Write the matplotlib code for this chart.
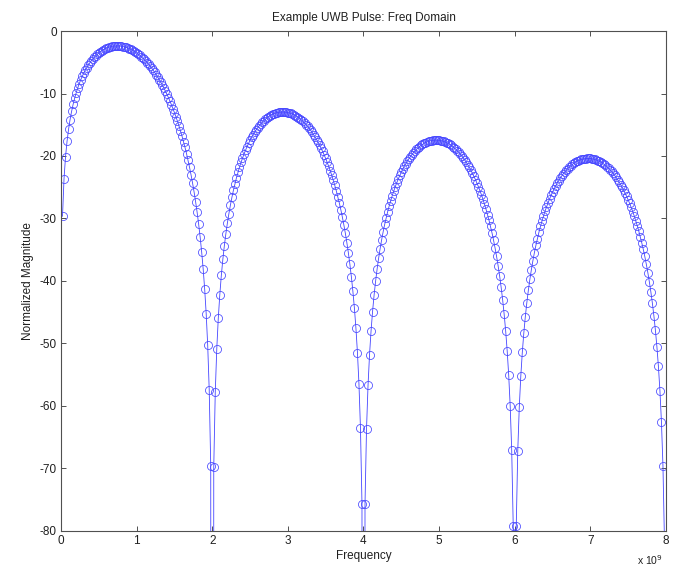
import numpy as np
import matplotlib
matplotlib.use("Agg")
import matplotlib.pyplot as plt

plt.rcParams['font.family'] = ['Liberation Sans', 'DejaVu Sans']

# Normalized spectrum magnitude (dB), sampled every 0.02 x 10^9 Hz from 0.02 to 8.00.
# Each lobe list ends at its spectral null (deep notch far below the plotted range).
lobe1_db = [
    -29.64, -23.62, -20.11, -17.64, -15.73, -14.17, -12.87, -11.75, -10.79, -9.92,
    -9.16, -8.46, -7.84, -7.27, -6.76, -6.29, -5.86, -5.47, -5.11, -4.77,
    -4.47, -4.19, -3.94, -3.71, -3.50, -3.31, -3.15, -2.99, -2.86, -2.74,
    -2.65, -2.56, -2.50, -2.44, -2.40, -2.39, -2.38, -2.38, -2.40, -2.43,
    -2.48, -2.54, -2.61, -2.70, -2.81, -2.92, -3.04, -3.18, -3.34, -3.50,
    -3.68, -3.87, -4.09, -4.31, -4.55, -4.80, -5.06, -5.34, -5.64, -5.95,
    -6.29, -6.63, -7.00, -7.39, -7.78, -8.20, -8.65, -9.11, -9.60, -10.10,
    -10.64, -11.20, -11.79, -12.40, -13.04, -13.72, -14.43, -15.18, -15.97, -16.81,
    -17.70, -18.64, -19.63, -20.70, -21.83, -23.04, -24.35, -25.77, -27.32, -29.01,
    -30.88, -32.97, -35.34, -38.07, -41.31, -45.25, -50.31, -57.43, -69.55, -600.0,
]
lobe2_db = [
    -69.73, -57.77, -50.83, -45.94, -42.18, -39.12, -36.56, -34.36, -32.45, -30.75,
    -29.24, -27.87, -26.62, -25.49, -24.46, -23.50, -22.62, -21.80, -21.04, -20.34,
    -19.68, -19.07, -18.50, -17.97, -17.48, -17.02, -16.60, -16.20, -15.82, -15.48,
    -15.17, -14.87, -14.61, -14.35, -14.13, -13.93, -13.75, -13.58, -13.44, -13.31,
    -13.21, -13.12, -13.05, -13.00, -12.97, -12.95, -12.95, -12.96, -13.00, -13.04,
    -13.11, -13.19, -13.30, -13.41, -13.55, -13.69, -13.86, -14.04, -14.25, -14.47,
    -14.72, -14.97, -15.26, -15.56, -15.87, -16.21, -16.59, -16.97, -17.38, -17.81,
    -18.27, -18.76, -19.28, -19.82, -20.40, -21.01, -21.66, -22.35, -23.08, -23.86,
    -24.69, -25.56, -26.50, -27.51, -28.58, -29.74, -31.00, -32.36, -33.86, -35.50,
    -37.32, -39.36, -41.68, -44.37, -47.55, -51.45, -56.46, -63.53, -75.62, -600.0,
]
lobe3_db = [
    -75.71, -63.71, -56.72, -51.79, -47.99, -44.89, -42.29, -40.05, -38.10, -36.37,
    -34.82, -33.41, -32.13, -30.96, -29.89, -28.90, -27.98, -27.13, -26.34, -25.60,
    -24.91, -24.27, -23.67, -23.11, -22.59, -22.09, -21.64, -21.21, -20.81, -20.44,
    -20.09, -19.77, -19.48, -19.20, -18.94, -18.72, -18.51, -18.31, -18.15, -18.00,
    -17.86, -17.75, -17.65, -17.58, -17.53, -17.48, -17.46, -17.44, -17.46, -17.48,
    -17.53, -17.58, -17.66, -17.76, -17.87, -18.00, -18.14, -18.30, -18.49, -18.69,
    -18.91, -19.15, -19.41, -19.69, -19.99, -20.31, -20.66, -21.02, -21.42, -21.83,
    -22.27, -22.74, -23.25, -23.77, -24.33, -24.92, -25.55, -26.22, -26.93, -27.70,
    -28.51, -29.37, -30.29, -31.28, -32.34, -33.48, -34.72, -36.07, -37.55, -39.17,
    -40.98, -43.00, -45.31, -47.98, -51.15, -55.03, -60.03, -67.09, -79.16, -600.0,
]
lobe4_db = [
    -79.21, -67.20, -60.20, -55.26, -51.44, -48.33, -45.71, -43.46, -41.50, -39.75,
    -38.19, -36.76, -35.47, -34.29, -33.21, -32.20, -31.27, -30.41, -29.61, -28.85,
    -28.15, -27.50, -26.89, -26.31, -25.78, -25.28, -24.81, -24.37, -23.95, -23.57,
    -23.22, -22.88, -22.58, -22.29, -22.02, -21.79, -21.56, -21.36, -21.19, -21.02,
    -20.88, -20.75, -20.65, -20.56, -20.50, -20.44, -20.41, -20.38, -20.39, -20.40,
    -20.44, -20.48, -20.56, -20.64, -20.75, -20.86, -20.99, -21.15, -21.32, -21.52,
    -21.73, -21.96, -22.21, -22.48, -22.77, -23.08, -23.42, -23.78, -24.16, -24.57,
    -25.00, -25.46, -25.96, -26.47, -27.02, -27.60, -28.23, -28.89, -29.59, -30.35,
    -31.15, -32.00, -32.92, -33.90, -34.95, -36.08, -37.32, -38.66, -40.13, -41.74,
    -43.54, -45.56, -47.86, -50.52, -53.68, -57.55, -62.55, -69.60, -81.66, -600.0,
]

freq_step = 0.02  # in units of 10^9 Hz
x_ticks = [0, 1, 2, 3, 4, 5, 6, 7, 8]
y_ticks = [0, -10, -20, -30, -40, -50, -60, -70, -80]

magnitude_db = np.array(lobe1_db + lobe2_db + lobe3_db + lobe4_db)
freq = np.arange(1, len(magnitude_db) + 1) * freq_step

fig = plt.figure(figsize=(6.74, 5.71), dpi=100)
ax = fig.add_axes([0.0905, 0.0701, 0.8976, 0.8756])

ax.plot(freq, magnitude_db, color='#4545ff', linewidth=0.6,
        marker='o', markersize=5.8, markerfacecolor='none',
        markeredgecolor='#4545ff', markeredgewidth=0.55)

ax.set_xlim(0, 8)
ax.set_ylim(-80, 0)
ax.set_xticks(x_ticks)
ax.set_yticks(y_ticks)
ax.set_xticklabels([str(t) for t in x_ticks])
ax.set_yticklabels([str(t) for t in y_ticks])

for side in ax.spines.values():
    side.set_color('#505050')
    side.set_linewidth(0.8)
ax.tick_params(direction='in', length=3.6, width=0.7, color='#505050',
               labelsize=8.5, labelcolor='#202020', top=True, right=True, pad=3)

ax.set_title('Example UWB Pulse: Freq Domain', fontsize=8.5, color='#202020', pad=7)
ax.set_xlabel('Frequency', fontsize=8.5, color='#202020', labelpad=2)
ax.set_ylabel('Normalized Magnitude', fontsize=8.5, color='#202020', labelpad=4)
ax.text(0.995, -0.058, r'x 10$^{9}$', transform=ax.transAxes, ha='right',
        va='center', fontsize=7.5, color='#202020')

fig.savefig('out.png', dpi=100)
